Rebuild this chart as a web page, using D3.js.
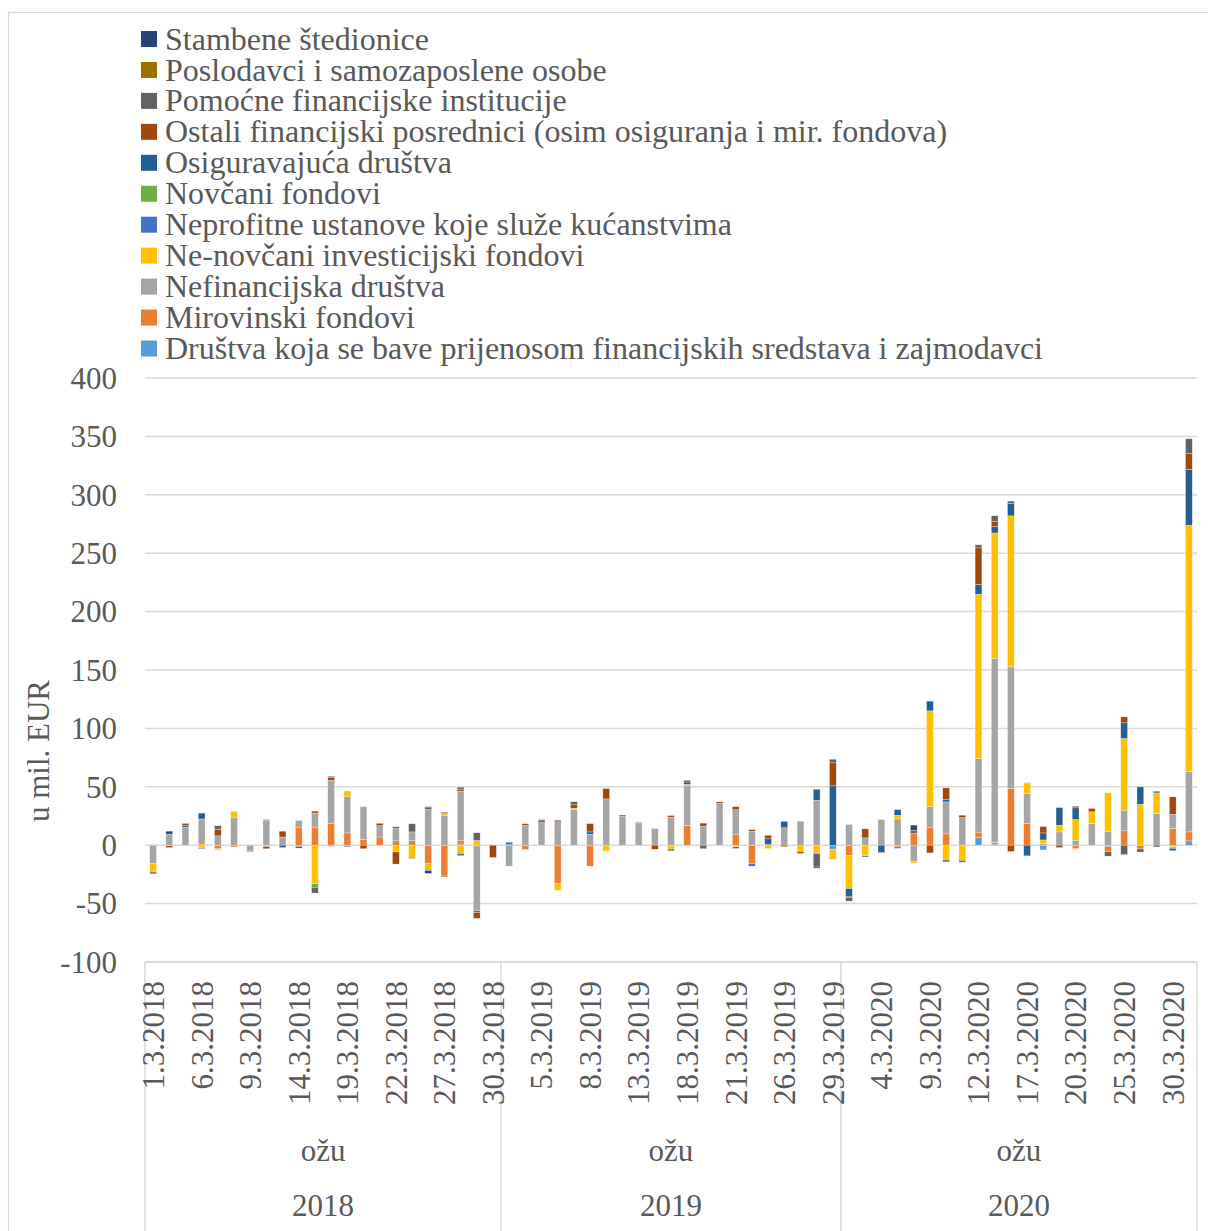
<!DOCTYPE html>
<html><head><meta charset="utf-8">
<script src="https://cdn.jsdelivr.net/npm/d3@7"></script>
<style>
body{margin:0;background:#fff}
text{font-family:"Liberation Serif","Times New Roman",serif;fill:#595959}
</style>
</head><body><svg id="c" width="1208" height="1231"></svg>
<script>
const days2018 = [1,2,5,6,7,8,9,12,13,14,15,16,19,20,21,22,23,26,27,28,29,30];
const days2019 = [1,4,5,6,7,8,11,12,13,14,15,18,19,20,21,22,25,26,27,28,29];
const days2020 = [2,3,4,5,6,9,10,11,12,13,16,17,18,19,20,23,24,25,26,27,30,31];
const years = ["2018","2019","2020"];
const monthLabel = "ožu";
const categories = [
  ...days2018.map(d => d + ".3.2018"),
  ...days2019.map(d => d + ".3.2019"),
  ...days2020.map(d => d + ".3.2020")
];
const yearCounts = [days2018.length, days2019.length, days2020.length];
const yTicks = [-100,-50,0,50,100,150,200,250,300,350,400];

// series, stacking order bottom -> top
const seriesNames = [
  "Društva koja se bave prijenosom financijskih sredstava i zajmodavci",
  "Mirovinski fondovi",
  "Nefinancijska društva",
  "Ne-novčani investicijski fondovi",
  "Neprofitne ustanove koje služe kućanstvima",
  "Novčani fondovi",
  "Osiguravajuća društva",
  "Ostali financijski posrednici (osim osiguranja i mir. fondova)",
  "Pomoćne financijske institucije",
  "Poslodavci i samozaposlene osobe",
  "Stambene štedionice"
];
const seriesColors = ["#5b9bd5","#ed7d31","#a5a5a5","#ffc000","#4472c4","#70ad47","#255e91","#9e480e","#636363","#997300","#264478"];

const drustvaPrijenos = [
  0,0,0,0,0,0,0,0,0,-1,0,-1,-1.5,0,-0.5,0,0,0,0,1,0,0,
  0,0,0,0,0,0,0,0,0,0,0,0,0,0,0,0,0,0,0,0,-3.4,
  0,0,0,0,0,0,0,0,6.6,1,0,0,-4,0,0,0,-1.4,0,0,0,-1,3.7];
const mirovinski = [
  0,-0.5,0,1,-3,-1.5,0,0,0,15.5,15.5,18.5,10.5,5,7,3.7,4,-15.7,-25.7,3.3,0,0,
  0,-3.7,0,-33,0,-18,0,0,0,0,0,17,0,0,9,-15.7,0,0,0,0,0,
  -8.6,0,0,-1.5,10,15,9.7,0,4.6,1.5,48.5,18.6,0,0,-3,0,-4,12.3,-3.2,0,14.3,7.7];
const nefinancijska = [
  -15.5,9.5,15.5,21.5,8,24,-4.5,21.5,7,5.7,12,37,31,28,9.7,11,7.4,30.6,25.7,42,-56.3,0,
  -18,17,19.4,20,30.6,9.4,39,25,18.6,14.3,24,33.7,16.3,35.7,21.4,12,0.5,15,20.6,38.5,0,
  17.7,6.3,22,22.5,-13.7,18,27.4,23.7,63,157.5,104.2,25.7,1.5,11.4,4.3,18.6,12,17.7,0,27.1,12.2,51.9];
const neNovcani = [
  -7.5,0,0,-2,-1,5,0,-1,0,0,-33,0,5,0,0,-5.7,-10.5,-5,1.4,-7,4,0,
  0,0,0,-5.7,1.1,0,-5,0,0,0,-3.4,1.4,0,0,-1.4,0,-3,0,-5.4,-6.3,-8.6,
  -28.5,-9.1,0,3.1,-1.7,82,-12.3,-12.9,140.7,107.3,129.3,8.6,3,5.7,17.7,10,32.9,61.4,35.1,17.7,-1.7,210.6];
const neprofitne = [
  0,0,0,-1,0,0,-1,0,0,0,0,0,0,0,0,0,0,-1,0,-2,0,0,
  1,0,0,0,0,0,0,0,0,0,0,0,0,0,-1.4,-2.3,0,0,0,0,0,
  0,-1,0,-1.2,0,0,-2,-1.7,0,0,0,0,0,0,0,0,0,0,0,0,0,0];
const novcani = [
  0,0,0,0,0,0,0,0,0,0,-3,0,0,0,0,0,0,0,0,0,0,0,
  0,0,0,0,0,0,0,0,0,0,0,0,0,0,0,0,0,0,0,0,0,
  0,0,0,0,0,0,0,0,0,0,0,0,0,0,0,0,0,0,0,0,0,0];
const osiguravajuca = [
  0,0,1.2,5,0,0,0,0.5,-2,-1.5,0,0,0,0,0,0,-0.8,1.4,0,0,-1.4,0,
  1.5,0,1.4,0,0,2,0.6,0,0,0,-1.4,2,0,0,0,0,5,5.4,0,9.4,50.8,
  -6.6,0,-6.3,4.9,0,8.3,2,0,8.3,5.4,10.6,-9.1,6,15.1,10,0,0,13.4,14.8,1.4,-2,47.9];
const ostaliPosrednici = [
  0,-1.5,2,0,5.7,0,0,-2,5,0,1.7,2.3,0,-3,2,-10.5,0,1,0,1.7,-5,-10.5,
  0,1.4,1.1,1.4,2.9,7.1,8.9,0.9,0.9,-3.5,1.4,1.4,2.6,1.4,2.6,1.4,3,0,-1.7,-1,19.7,
  -1,7.7,0,0,0,-6.6,10,2,31.4,4.3,-5.4,0,5.5,-2,1.4,2.9,0,5.1,0,0,14.9,13.4];
const pomocne = [
  -1.5,0,0,0,3,0,0,0,0,0,-5,1.2,0,0,0,0,7,0,0,1.7,6.6,0,
  0,0,0,0,2.6,0,0,0,0,0,0,0,-3,0,0,0,0,0,0,-11.4,3.1,
  -3.2,0,0,0,2.9,0,0,0,2.6,5.1,2,0,0,0,0,0,-4,-8,-2.7,-1.5,0,12.8];
const poslodavci = [
  0,0,0,0,0,0,0,0,0,0,0,0,0,0,0,0,0,0,-1.4,0,0,0,
  0,0,0,0,0,0,0,0,0,0,0,0,0,0,0,0,0,-1.4,0,0,0,
  0,0,0,0,0,0,0,0,0,0,0,0.5,0,0,0,0,0,0,0,0,0,0];
const stambene = [
  0,2.5,0,0,0,0,0,0,0,0,0,0,0,0,0,1,0,-2.5,1,0,0,0,
  0,0,0,0,0,0,0,0,0,0,0,0,0,0,0,0,0,0,0,-1,0,
  0,0,0,0,4.3,0,0,0,0,0,0,0,0,0,0,0,0,0,0,0,0,0];

const seriesValues = [drustvaPrijenos, mirovinski, nefinancijska, neNovcani, neprofitne, novcani,
  osiguravajuca, ostaliPosrednici, pomocne, poslodavci, stambene];

const svg = d3.select("#c");
const L = 145, R = 1197, T = 378, B = 962;
const FS = 31;
const LFS = 32;

// outer border
svg.append("rect").attr("x",8.5).attr("y",12.5).attr("width",1205).attr("height",1225)
  .attr("fill","none").attr("stroke","#d9d9d9").attr("stroke-width",1.2);

const x = d3.scaleBand().domain(d3.range(categories.length)).range([L, R]).paddingInner(0.58).paddingOuter(0.29);
const y = d3.scaleLinear().domain([-100, 400]).range([B, T]);

// gridlines
svg.append("g").selectAll("line").data(yTicks).join("line")
  .attr("x1", L).attr("x2", R).attr("y1", d => y(d)).attr("y2", d => y(d))
  .attr("stroke", "#d9d9d9").attr("stroke-width", 1.5);

// y labels
svg.append("g").selectAll("text").data(yTicks).join("text")
  .attr("x", 117).attr("y", d => y(d)).attr("dy", "0.35em").attr("text-anchor", "end")
  .style("font-size", FS + "px").text(d => d);

svg.append("text").attr("transform", "translate(38,751) rotate(-90)").attr("text-anchor", "middle")
  .attr("dy", "0.35em").style("font-size", FS + "px").text("u mil. EUR");

// stacked data
const table = categories.map((c, i) => {
  const o = {cat: i};
  seriesNames.forEach((n, k) => o[n] = seriesValues[k][i]);
  return o;
});
const stacked = d3.stack().keys(seriesNames).offset(d3.stackOffsetDiverging)(table);

svg.append("g").selectAll("g").data(stacked).join("g")
  .attr("fill", (d, k) => seriesColors[k])
  .selectAll("rect").data(d => d.filter(p => p[1] !== p[0])).join("rect")
  .attr("x", p => x(p.data.cat)).attr("width", x.bandwidth())
  .attr("y", p => y(Math.max(p[0], p[1])))
  .attr("height", p => Math.abs(y(p[0]) - y(p[1])))
  .attr("stroke", "#ffffff").attr("stroke-width", 0.5).attr("stroke-opacity", 0.6);

// category axis
const ax = svg.append("g");
ax.append("line").attr("x1", L).attr("x2", R).attr("y1", B).attr("y2", B).attr("stroke", "#d9d9d9").attr("stroke-width", 1.5);
let start = 0;
const bounds = [L];
yearCounts.forEach(n => { start += n; bounds.push(x.step() * start + L); });
bounds[bounds.length - 1] = R;
bounds.forEach(bx => ax.append("line").attr("x1", bx).attr("x2", bx).attr("y1", B).attr("y2", 1231)
  .attr("stroke", "#d9d9d9").attr("stroke-width", 1.5));

ax.selectAll("text.tick").data(categories.map((c, i) => ({c, i})).filter(d => d.i % 3 === 0)).join("text")
  .attr("class", "tick")
  .attr("transform", d => `translate(${x(d.i) + x.bandwidth() / 2},981) rotate(-90)`)
  .attr("text-anchor", "end").attr("dy", "0.35em").style("font-size", FS + "px").text(d => d.c);

years.forEach((yr, k) => {
  const cx = (bounds[k] + bounds[k + 1]) / 2;
  ax.append("text").attr("x", cx).attr("y", 1150).attr("dy", "0.35em").attr("text-anchor", "middle")
    .style("font-size", FS + "px").text(monthLabel);
  ax.append("text").attr("x", cx).attr("y", 1205).attr("dy", "0.35em").attr("text-anchor", "middle")
    .style("font-size", FS + "px").text(yr);
});

// legend (reverse order)
const legendItems = seriesNames.map((n, k) => ({n, c: seriesColors[k]})).reverse();
const lg = svg.append("g");
legendItems.forEach((d, i) => {
  const cy = 39 + i * 30.95;
  lg.append("rect").attr("x", 141).attr("y", cy - 8).attr("width", 16).attr("height", 16).attr("fill", d.c);
  lg.append("text").attr("x", 165).attr("y", cy).attr("dy", "0.33em").style("font-size", LFS + "px").text(d.n);
});
</script>
</body></html>
